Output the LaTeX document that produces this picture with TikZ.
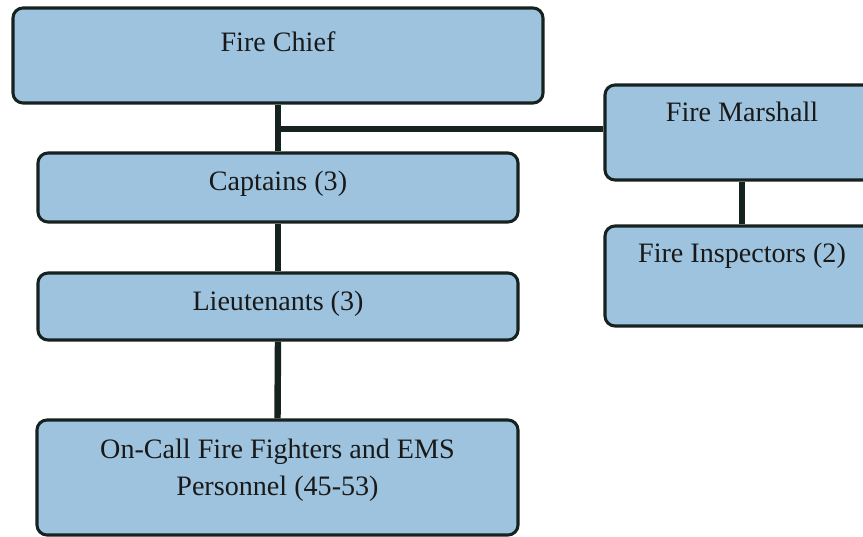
\documentclass[tikz,border=0pt]{standalone}
\usepackage{fontspec}
\setmainfont{Liberation Serif}
\usetikzlibrary{calc}

\definecolor{boxblue}{RGB}{158,195,222}
\definecolor{boxline}{RGB}{22,34,32}

\tikzset{
  box/.style={draw=boxline, line width=2.6pt, fill=boxblue, rounded corners=0.3cm, inner sep=0pt},
  lbl/.style={anchor=center, align=center, inner sep=0pt, text=black!90},
  link/.style={draw=boxline, line width=5.5pt}
}

\begin{document}
\begin{tikzpicture}[x=0.03cm, y=-0.03cm, font=\fontsize{24}{32}\selectfont]
	  \useasboundingbox (0,0) rectangle (863,537);

	  % department, left column
	  \node[box, minimum width=15.9cm, minimum height=2.85cm,
	        label={[lbl, name=chieftxt, yshift=-1.05cm]north:Fire Chief}] (chief) at (278,55.5) {};
	  \node[box, minimum width=14.4cm, minimum height=2.07cm,
	        label={[lbl, name=captxt, yshift=-0.98cm]north:Captains (3)}] (cap) at (278,187.5) {};
	  \node[box, minimum width=14.4cm, minimum height=2.01cm,
	        label={[lbl, name=lttxt, yshift=-0.96cm]north:Lieutenants (3)}] (lt) at (278,306.5) {};
	  \node[box, minimum width=14.43cm, minimum height=3.45cm,
	        label={[lbl, name=oncalltxt, yshift=-1.55cm]north:On-Call Fire Fighters and EMS\\Personnel (45-53)}] (oncall) at (277.5,477.5) {};

	  % prevention, right column
	  \node[box, minimum width=8.22cm, minimum height=2.85cm,
	        label={[lbl, name=marshtxt, yshift=-0.84cm]north:Fire Marshall}] (marshall) at (742,132.5) {};
	  \node[box, minimum width=8.22cm, minimum height=3cm,
	        label={[lbl, name=insptxt, yshift=-0.95cm]north:Fire Inspectors (2)}] (insp) at (742,276) {};

	  % reporting lines
	  \coordinate (jn) at ($(chief.south)!0.52!(cap.north)$);
	  \draw[link] (chief.south) -- (cap.north);
	  \draw[link] (jn) -- (jn -| marshall.west);
	  \draw[link] (cap.south) -- (lt.north);
	  \draw[link] (lt.south) -- (oncall.north);
	  \draw[link] (marshall.south) -- (insp.north);
\end{tikzpicture}
\end{document}
